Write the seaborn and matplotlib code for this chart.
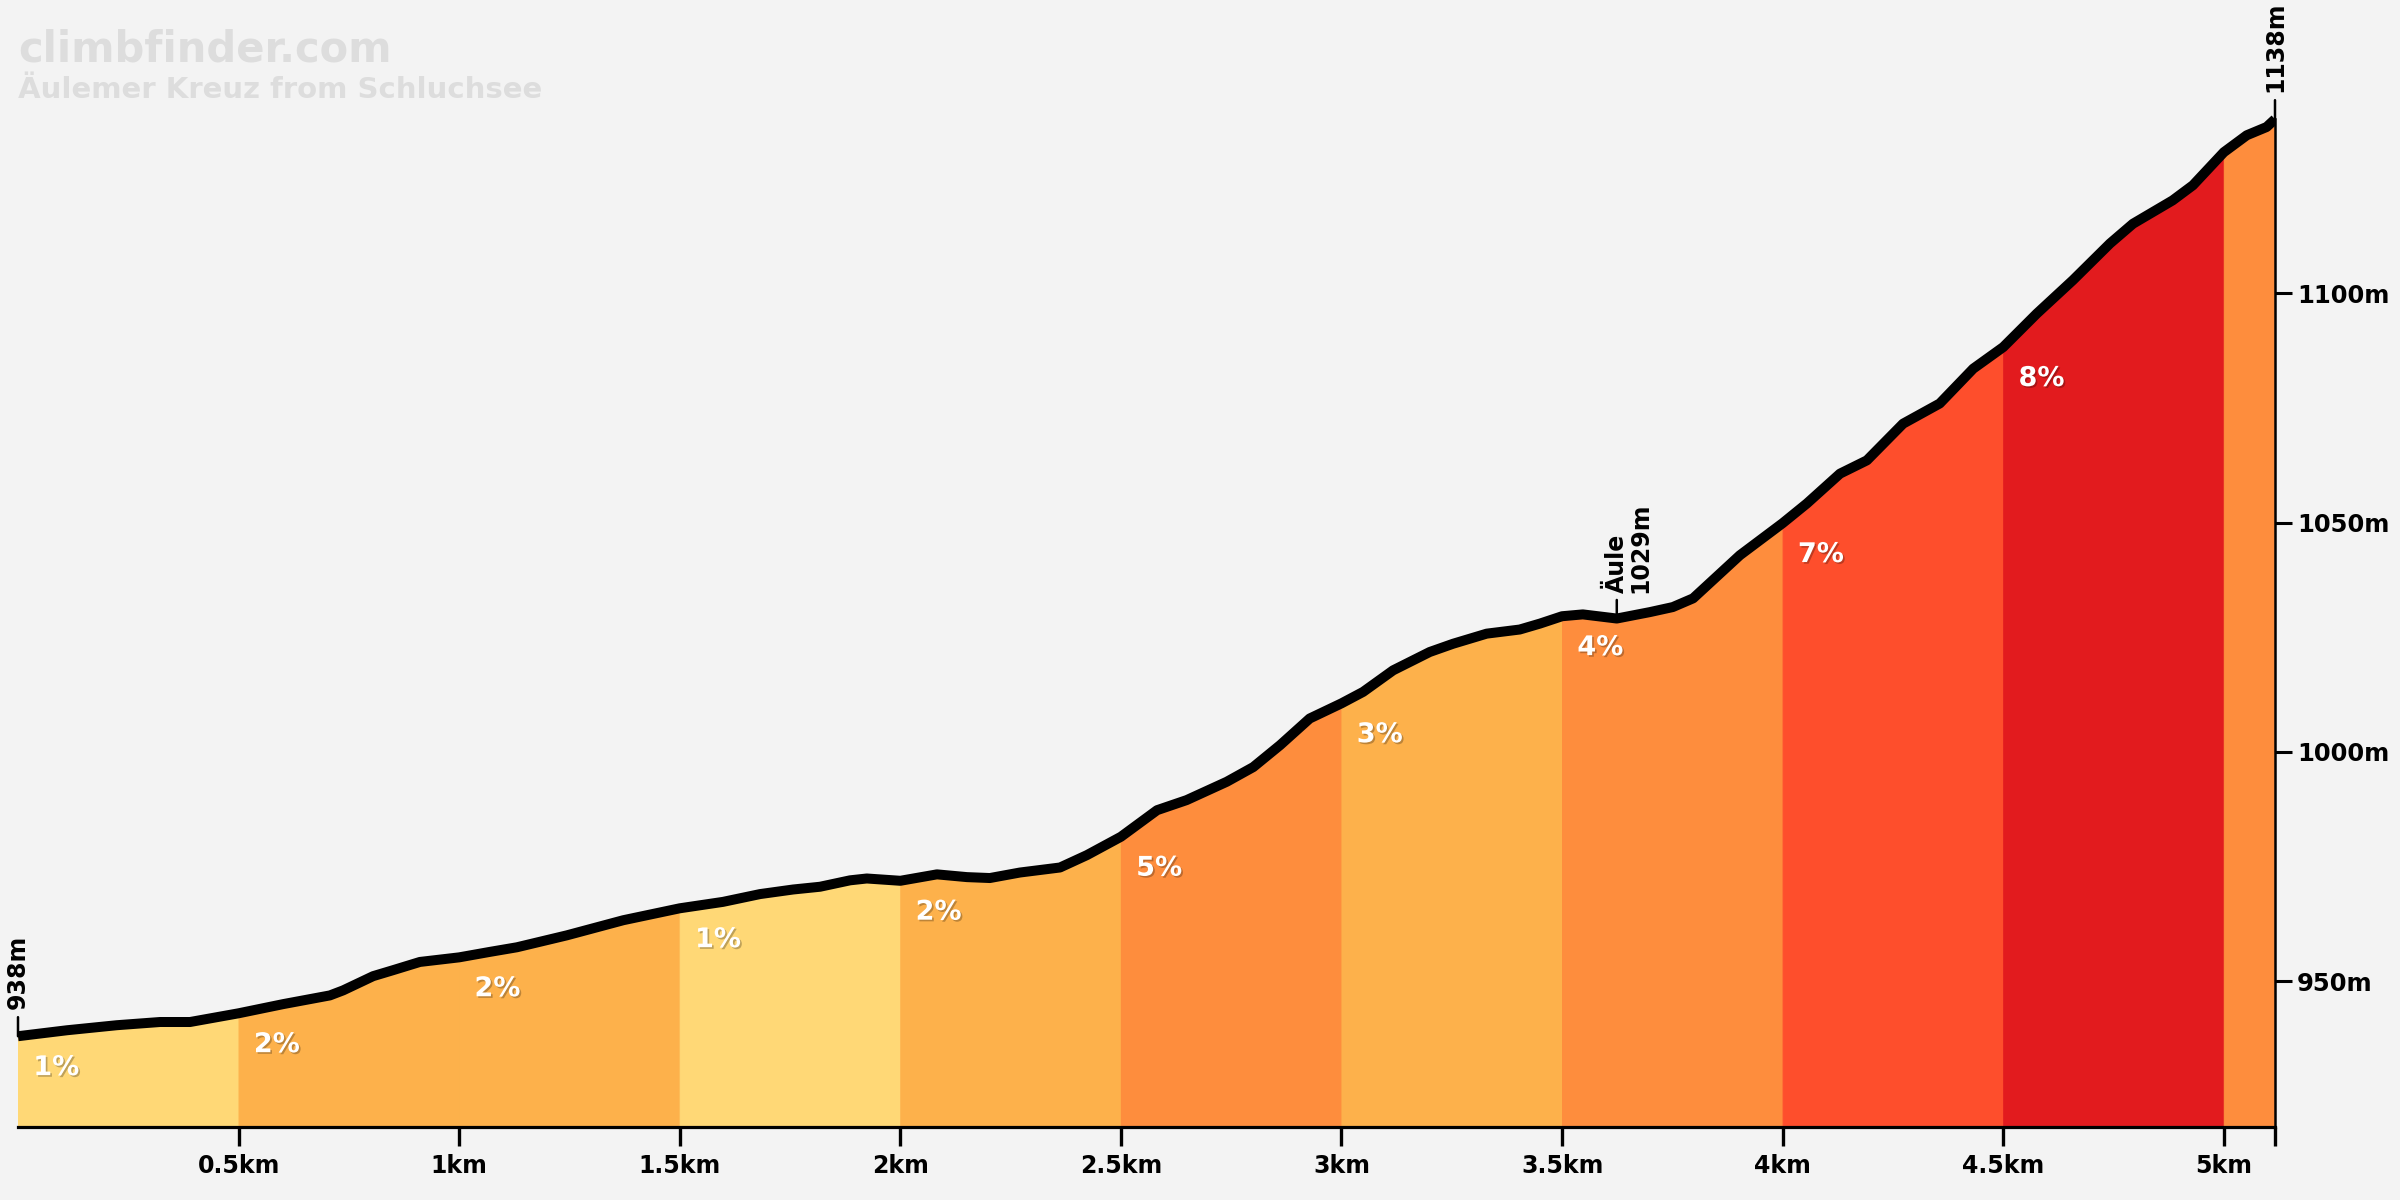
import matplotlib
matplotlib.use("Agg")
import matplotlib.pyplot as plt
import matplotlib.patheffects as pe
import numpy as np
import pandas as pd
import seaborn as sns

# ---------------- data ----------------
distance_km = [0.000, 0.111, 0.224, 0.322, 0.390, 0.500, 0.601, 0.707, 0.737, 0.805,
               0.850, 0.911, 1.000, 1.070, 1.131, 1.244, 1.372, 1.500, 1.598, 1.682,
               1.757, 1.818, 1.886, 1.924, 2.000, 2.083, 2.151, 2.203, 2.271, 2.362,
               2.423, 2.500, 2.582, 2.649, 2.740, 2.800, 2.861, 2.928, 3.000, 3.049,
               3.117, 3.200, 3.253, 3.329, 3.404, 3.450, 3.500, 3.547, 3.624, 3.699,
               3.751, 3.797, 3.903, 4.000, 4.055, 4.130, 4.191, 4.273, 4.356, 4.432,
               4.500, 4.576, 4.658, 4.742, 4.794, 4.884, 4.930, 5.000, 5.052, 5.097,
               5.116]
elevation_m = [938.0, 939.3, 940.4, 941.1, 941.1, 943.0, 945.0, 946.9, 948.0, 951.1,
               952.4, 954.2, 955.2, 956.4, 957.4, 960.0, 963.3, 965.9, 967.3, 969.0,
               970.0, 970.6, 972.0, 972.4, 971.9, 973.3, 972.7, 972.5, 973.7, 974.8,
               977.5, 981.5, 987.3, 989.5, 993.5, 996.7, 1001.5, 1007.3, 1010.6, 1013.1,
               1017.8, 1021.8, 1023.6, 1025.8, 1026.7, 1028.0, 1029.6, 1030.0, 1029.1, 1030.5,
               1031.6, 1033.5, 1042.9, 1049.9, 1054.2, 1060.7, 1063.6, 1071.6, 1076.0, 1083.6,
               1088.3, 1095.6, 1102.9, 1110.9, 1115.2, 1120.3, 1123.6, 1130.8, 1134.5, 1136.3,
               1138.0]

segment_starts = [0.0, 0.5, 1.0, 1.5, 2.0, 2.5, 3.0, 3.5, 4.0, 4.5, 5.0]
segment_ends = [0.5, 1.0, 1.5, 2.0, 2.5, 3.0, 3.5, 4.0, 4.5, 5.0, 5.116]
segment_grades = ["1%", "2%", "2%", "1%", "2%", "5%", "3%", "4%", "7%", "8%", ""]
segment_colors = ["#FFD876", "#FDB14B", "#FDB14B", "#FFD876", "#FDB14B", "#FE8D3D",
                  "#FDB14B", "#FE8D3D", "#FE4E2C", "#E21B1E", "#FE8D3D"]

xtick_values = [0.5, 1.0, 1.5, 2.0, 2.5, 3.0, 3.5, 4.0, 4.5, 5.0, 5.116]
xtick_labels = ["0.5km", "1km", "1.5km", "2km", "2.5km", "3km", "3.5km", "4km",
                "4.5km", "5km", ""]
ytick_values = [950, 1000, 1050, 1100]
ytick_labels = ["950m", "1000m", "1050m", "1100m"]

poi_km = [0.0, 3.624, 5.116]
poi_elev = [938, 1029, 1138]
poi_names = ["", "Äule", ""]
poi_labels = ["938m", "1029m", "1138m"]

title = "climbfinder.com"
subtitle = "Äulemer Kreuz from Schluchsee"

# ---------------- styling ----------------
BG = "#F3F3F3"
sns.set_theme(style="white")
plt.rcParams["font.family"] = ["DejaVu Sans"]

W, H = 2400, 1200
fig = plt.figure(figsize=(24, 12), dpi=100, facecolor=BG)
ax = fig.add_axes([18 / W, 1 - 1127 / H, (2275 - 18) / W, 1127 / H])
ax.set_facecolor(BG)

ymin = 918.2
ymax = ymin + 1127 / 4.585
ax.set_xlim(0, 5.116)
ax.set_ylim(ymin, ymax)

df = pd.DataFrame({"km": distance_km, "elev": elevation_m})
d = np.array(distance_km)
e = np.array(elevation_m)

# coloured gradient segments
for s, t, c in zip(segment_starts, segment_ends, segment_colors):
    m = (d >= s - 1e-9) & (d <= t + 1e-9)
    ax.fill_between(d[m], e[m], ymin, color=c, edgecolor=c, linewidth=0.8, zorder=1)

# profile line
sns.lineplot(data=df, x="km", y="elev", color="black", linewidth=7.2, ax=ax,
             sort=False, zorder=5, solid_joinstyle="round", solid_capstyle="butt")
ax.set_xlabel("")
ax.set_ylabel("")

# gradient labels
shadow = [pe.withSimplePatchShadow(offset=(1.2, -1.2), shadow_rgbFace=(0, 0, 0), alpha=0.25)]
for s, g in zip(segment_starts, segment_grades):
    if not g:
        continue
    el = elevation_m[distance_km.index(s)]
    ax.annotate(g, xy=(s, el), xytext=(11, -28), textcoords="offset points",
                ha="left", va="baseline", fontsize=19.5, fontweight="bold",
                color="white", zorder=6, path_effects=shadow)

# points of interest
for x, el, nm, lab in zip(poi_km, poi_elev, poi_names, poi_labels):
    ax.annotate("", xy=(x, el), xytext=(0, 13.7), textcoords="offset points",
                arrowprops=dict(arrowstyle="-", lw=1.8, color="black",
                                shrinkA=0, shrinkB=0), zorder=4)
    if nm:
        ax.annotate(nm, xy=(x, el), xytext=(0, 18.5), textcoords="offset points",
                    rotation=90, ha="center", va="bottom", fontsize=17,
                    fontweight="bold", color="black", zorder=7)
        ax.annotate(lab, xy=(x, el), xytext=(17.3, 18.5), textcoords="offset points",
                    rotation=90, ha="center", va="bottom", fontsize=17,
                    fontweight="bold", color="black", zorder=7)
    else:
        ax.annotate(lab, xy=(x, el), xytext=(0, 19.4), textcoords="offset points",
                    rotation=90, ha="center", va="bottom", fontsize=17,
                    fontweight="bold", color="black", zorder=7)

# axes / spines
for sp in ["top", "left"]:
    ax.spines[sp].set_visible(False)
ax.spines["bottom"].set_linewidth(2.3)
ax.spines["bottom"].set_color("black")
ax.spines["right"].set_linewidth(1.8)
ax.spines["right"].set_color("black")
ax.spines["right"].set_bounds(ymin, poi_elev[-1])
ax.spines["right"].set_zorder(8)

ax.set_xticks(xtick_values)
ax.set_xticklabels(xtick_labels, fontsize=17, fontweight="bold", color="black")
ax.set_yticks(ytick_values)
ax.set_yticklabels(ytick_labels, fontsize=17.5, fontweight="bold", color="black")
ax.yaxis.tick_right()
ax.tick_params(axis="x", direction="out", length=13.7, width=2.4, color="black",
               pad=6, bottom=True)
ax.tick_params(axis="y", direction="out", length=12, width=2.2, color="black",
               pad=4, right=True, left=False)
ax.grid(False)

# titles
fig.text(18 / W, 1 - 62 / H, title, fontsize=30, fontweight="heavy",
         color="#DDDDDD", ha="left", va="baseline")
fig.text(18 / W, 1 - 98 / H, subtitle, fontsize=21, fontweight="heavy",
         color="#DDDDDD", ha="left", va="baseline")

fig.savefig("out.png", dpi=100, facecolor=BG)
